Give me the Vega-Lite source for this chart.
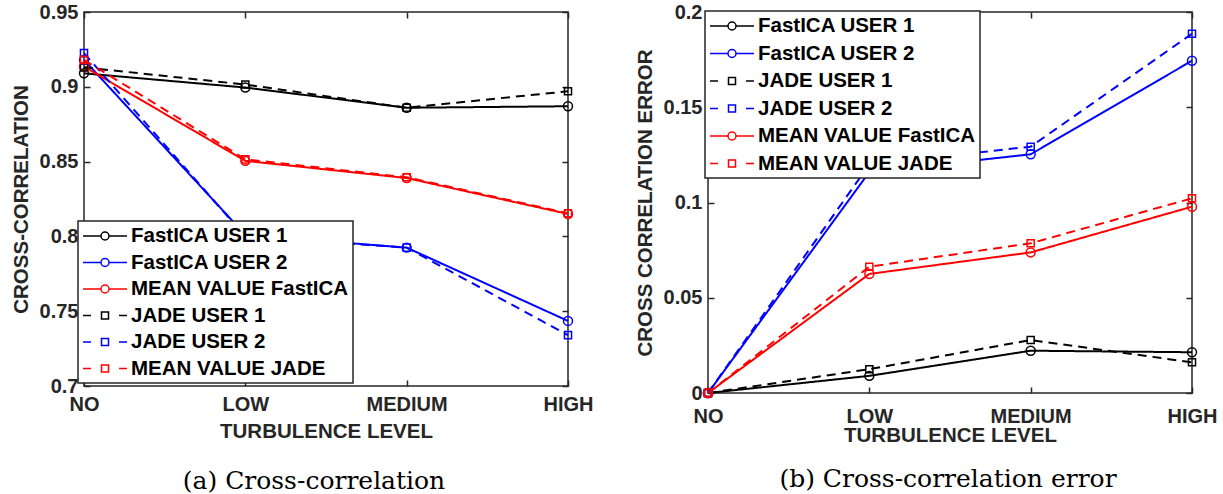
{
  "$schema": "https://vega.github.io/schema/vega-lite/v6.json",
  "padding": {"left": 10, "top": 1, "right": 5, "bottom": 5},
  "background": "white",
  "config": {
    "view": {"stroke": "#262626", "strokeWidth": 1.5},
    "axis": {
      "grid": false, "domain": false,
      "tickColor": "#262626", "tickWidth": 1.5, "tickSize": -6,
      "labelFont": "Liberation Sans", "labelFontWeight": "bold", "labelFontSize": 20, "labelColor": "#262626",
      "titleFont": "Liberation Sans", "titleFontWeight": "bold", "titleFontSize": 20.5, "titleColor": "#262626"
    },
    "concat": {"spacing": 140},
    "title": {"font": "DejaVu Serif", "fontSize": 25, "fontWeight": "normal", "color": "black"}
  },
  "datasets": {
    "cc": [
      {"series": "FastICA USER 1", "method": "FastICA", "level": "NO", "value": 0.909},
      {"series": "FastICA USER 1", "method": "FastICA", "level": "LOW", "value": 0.8995},
      {"series": "FastICA USER 1", "method": "FastICA", "level": "MEDIUM", "value": 0.886},
      {"series": "FastICA USER 1", "method": "FastICA", "level": "HIGH", "value": 0.887},
      {"series": "FastICA USER 2", "method": "FastICA", "level": "NO", "value": 0.918},
      {"series": "FastICA USER 2", "method": "FastICA", "level": "LOW", "value": 0.801},
      {"series": "FastICA USER 2", "method": "FastICA", "level": "MEDIUM", "value": 0.7925},
      {"series": "FastICA USER 2", "method": "FastICA", "level": "HIGH", "value": 0.7435},
      {"series": "MEAN VALUE FastICA", "method": "FastICA", "level": "NO", "value": 0.9135},
      {"series": "MEAN VALUE FastICA", "method": "FastICA", "level": "LOW", "value": 0.8505},
      {"series": "MEAN VALUE FastICA", "method": "FastICA", "level": "MEDIUM", "value": 0.839},
      {"series": "MEAN VALUE FastICA", "method": "FastICA", "level": "HIGH", "value": 0.815},
      {"series": "JADE USER 1", "method": "JADE", "level": "NO", "value": 0.913},
      {"series": "JADE USER 1", "method": "JADE", "level": "LOW", "value": 0.9015},
      {"series": "JADE USER 1", "method": "JADE", "level": "MEDIUM", "value": 0.886},
      {"series": "JADE USER 1", "method": "JADE", "level": "HIGH", "value": 0.897},
      {"series": "JADE USER 2", "method": "JADE", "level": "NO", "value": 0.9225},
      {"series": "JADE USER 2", "method": "JADE", "level": "LOW", "value": 0.8},
      {"series": "JADE USER 2", "method": "JADE", "level": "MEDIUM", "value": 0.7925},
      {"series": "JADE USER 2", "method": "JADE", "level": "HIGH", "value": 0.734},
      {"series": "MEAN VALUE JADE", "method": "JADE", "level": "NO", "value": 0.918},
      {"series": "MEAN VALUE JADE", "method": "JADE", "level": "LOW", "value": 0.8515},
      {"series": "MEAN VALUE JADE", "method": "JADE", "level": "MEDIUM", "value": 0.8395},
      {"series": "MEAN VALUE JADE", "method": "JADE", "level": "HIGH", "value": 0.8155}
    ],
    "err": [
      {"series": "FastICA USER 1", "method": "FastICA", "level": "NO", "value": 0},
      {"series": "FastICA USER 1", "method": "FastICA", "level": "LOW", "value": 0.009},
      {"series": "FastICA USER 1", "method": "FastICA", "level": "MEDIUM", "value": 0.0222},
      {"series": "FastICA USER 1", "method": "FastICA", "level": "HIGH", "value": 0.0214},
      {"series": "FastICA USER 2", "method": "FastICA", "level": "NO", "value": 0},
      {"series": "FastICA USER 2", "method": "FastICA", "level": "LOW", "value": 0.116},
      {"series": "FastICA USER 2", "method": "FastICA", "level": "MEDIUM", "value": 0.1253},
      {"series": "FastICA USER 2", "method": "FastICA", "level": "HIGH", "value": 0.1744},
      {"series": "JADE USER 1", "method": "JADE", "level": "NO", "value": 0},
      {"series": "JADE USER 1", "method": "JADE", "level": "LOW", "value": 0.0125},
      {"series": "JADE USER 1", "method": "JADE", "level": "MEDIUM", "value": 0.0278},
      {"series": "JADE USER 1", "method": "JADE", "level": "HIGH", "value": 0.0161},
      {"series": "JADE USER 2", "method": "JADE", "level": "NO", "value": 0},
      {"series": "JADE USER 2", "method": "JADE", "level": "LOW", "value": 0.12},
      {"series": "JADE USER 2", "method": "JADE", "level": "MEDIUM", "value": 0.1293},
      {"series": "JADE USER 2", "method": "JADE", "level": "HIGH", "value": 0.1886},
      {"series": "MEAN VALUE FastICA", "method": "FastICA", "level": "NO", "value": 0},
      {"series": "MEAN VALUE FastICA", "method": "FastICA", "level": "LOW", "value": 0.0625},
      {"series": "MEAN VALUE FastICA", "method": "FastICA", "level": "MEDIUM", "value": 0.0738},
      {"series": "MEAN VALUE FastICA", "method": "FastICA", "level": "HIGH", "value": 0.0978},
      {"series": "MEAN VALUE JADE", "method": "JADE", "level": "NO", "value": 0},
      {"series": "MEAN VALUE JADE", "method": "JADE", "level": "LOW", "value": 0.0663},
      {"series": "MEAN VALUE JADE", "method": "JADE", "level": "MEDIUM", "value": 0.0786},
      {"series": "MEAN VALUE JADE", "method": "JADE", "level": "HIGH", "value": 0.1022}
    ]
  },
  "hconcat": [
    {
      "width": 484,
      "height": 374,
      "data": {"name": "cc"},
      "title": {"text": "(a) Cross-correlation", "orient": "bottom", "anchor": "middle", "frame": "group", "offset": 27, "dx": -12},
      "layer": [
        {
          "mark": {"type": "line", "strokeWidth": 2},
          "encoding": {
            "x": {"field": "level", "type": "nominal", "scale": {"type": "point", "padding": 0, "domain": ["NO", "LOW", "MEDIUM", "HIGH"]},
                  "axis": {"orient": "bottom", "title": "TURBULENCE LEVEL", "labelAngle": 0, "labelPadding": 14, "titlePadding": 7.5}},
            "y": {"field": "value", "type": "quantitative", "scale": {"domain": [0.7, 0.95], "nice": false, "zero": false},
                  "axis": {"orient": "left", "title": "CROSS-CORRELATION", "values": [0.7, 0.75, 0.8, 0.85, 0.9, 0.95], "format": "~g", "labelPadding": 12, "titlePadding": 8}},
            "color": {"field": "series", "type": "nominal",
                      "scale": {"domain": ["FastICA USER 1", "FastICA USER 2", "MEAN VALUE FastICA", "JADE USER 1", "JADE USER 2", "MEAN VALUE JADE"],
                                "range": ["#000000", "#0000ff", "#ff0000", "#000000", "#0000ff", "#ff0000"]},
                      "legend": {"orient": "none", "legendX": -6, "legendY": 209, "title": null,
                                 "strokeColor": "#262626", "fillColor": "white", "padding": 4, "rowPadding": 4.5,
                                 "symbolSize": 400, "symbolStrokeWidth": 1.5, "labelOffset": 27,
                                 "labelFont": "Liberation Sans", "labelFontWeight": "bold", "labelFontSize": 20.5, "labelColor": "black", "labelLimit": 400,
                                 "encode": {
                                   "legend": {"update": {"strokeWidth": {"value": 1.5}}},
                                   "symbols": {"update": {
                                   "shape": {"signal": "indexof(datum.value, 'JADE') >= 0 ? 'M-1,0H-0.2M2.6,0H3.4M0.85,-0.35H1.55V0.35H0.85Z' : 'M-1,0H0.8M1.6,0H3.4M1.6,0A0.4,0.4 0 1 1 0.8,0A0.4,0.4 0 1 1 1.6,0'"},
                                   "fill": {"value": "transparent"}
                                 }}}}},
            "strokeDash": {"field": "method", "type": "nominal", "scale": {"domain": ["FastICA", "JADE"], "range": [[1, 0], [9, 6]]}, "legend": null}
          }
        },
        {
          "mark": {"type": "point", "filled": false, "strokeWidth": 1.5, "opacity": 1},
          "encoding": {
            "x": {"field": "level", "type": "nominal", "axis": {"orient": "top", "labels": false, "title": null}},
            "y": {"field": "value", "type": "quantitative", "axis": {"orient": "right", "labels": false, "title": null, "values": [0.7, 0.75, 0.8, 0.85, 0.9, 0.95]}},
            "color": {"field": "series", "type": "nominal"},
            "shape": {"field": "method", "type": "nominal", "scale": {"domain": ["FastICA", "JADE"], "range": ["circle", "square"]}, "legend": null},
            "size": {"field": "method", "type": "nominal", "scale": {"domain": ["FastICA", "JADE"], "range": [80, 50]}, "legend": null}
          }
        }
      ],
      "resolve": {"axis": {"x": "independent", "y": "independent"}}
    },
    {
      "width": 484,
      "height": 381,
      "data": {"name": "err"},
      "title": {"text": "(b) Cross-correlation error", "orient": "bottom", "anchor": "middle", "frame": "group", "offset": 21, "dx": -2},
      "layer": [
        {
          "mark": {"type": "line", "strokeWidth": 2},
          "encoding": {
            "x": {"field": "level", "type": "nominal", "scale": {"type": "point", "padding": 0, "domain": ["NO", "LOW", "MEDIUM", "HIGH"]},
                  "axis": {"orient": "bottom", "title": "TURBULENCE LEVEL", "labelAngle": 0, "labelPadding": 19, "titlePadding": -1}},
            "y": {"field": "value", "type": "quantitative", "scale": {"domain": [0, 0.2], "nice": false},
                  "axis": {"orient": "left", "title": "CROSS CORRELATION ERROR", "values": [0, 0.05, 0.1, 0.15, 0.2], "format": "~g", "labelPadding": 12, "titlePadding": 8}},
            "color": {"field": "series", "type": "nominal",
                      "scale": {"domain": ["FastICA USER 1", "FastICA USER 2", "JADE USER 1", "JADE USER 2", "MEAN VALUE FastICA", "MEAN VALUE JADE"],
                                "range": ["#000000", "#0000ff", "#000000", "#0000ff", "#ff0000", "#ff0000"]},
                      "legend": {"orient": "none", "legendX": -3, "legendY": -1, "title": null,
                                 "strokeColor": "#262626", "fillColor": "white", "padding": 4, "rowPadding": 5.5,
                                 "symbolSize": 400, "symbolStrokeWidth": 1.5, "labelOffset": 27,
                                 "labelFont": "Liberation Sans", "labelFontWeight": "bold", "labelFontSize": 20.5, "labelColor": "black", "labelLimit": 400,
                                 "encode": {
                                   "legend": {"update": {"strokeWidth": {"value": 1.5}}},
                                   "symbols": {"update": {
                                   "shape": {"signal": "indexof(datum.value, 'JADE') >= 0 ? 'M-1,0H-0.2M2.6,0H3.4M0.85,-0.35H1.55V0.35H0.85Z' : 'M-1,0H0.8M1.6,0H3.4M1.6,0A0.4,0.4 0 1 1 0.8,0A0.4,0.4 0 1 1 1.6,0'"},
                                   "fill": {"value": "transparent"}
                                 }}}}},
            "strokeDash": {"field": "method", "type": "nominal", "scale": {"domain": ["FastICA", "JADE"], "range": [[1, 0], [9, 6]]}, "legend": null}
          }
        },
        {
          "mark": {"type": "point", "filled": false, "strokeWidth": 1.5, "opacity": 1},
          "encoding": {
            "x": {"field": "level", "type": "nominal", "axis": {"orient": "top", "labels": false, "title": null}},
            "y": {"field": "value", "type": "quantitative", "axis": {"orient": "right", "labels": false, "title": null, "values": [0, 0.05, 0.1, 0.15, 0.2]}},
            "color": {"field": "series", "type": "nominal"},
            "shape": {"field": "method", "type": "nominal", "scale": {"domain": ["FastICA", "JADE"], "range": ["circle", "square"]}, "legend": null},
            "size": {"field": "method", "type": "nominal", "scale": {"domain": ["FastICA", "JADE"], "range": [80, 50]}, "legend": null}
          }
        }
      ],
      "resolve": {"axis": {"x": "independent", "y": "independent"}}
    }
  ],
  "resolve": {"scale": {"color": "independent", "shape": "independent", "strokeDash": "independent", "size": "independent"}, "legend": {"color": "independent"}},
  "bounds": "flush"
}
